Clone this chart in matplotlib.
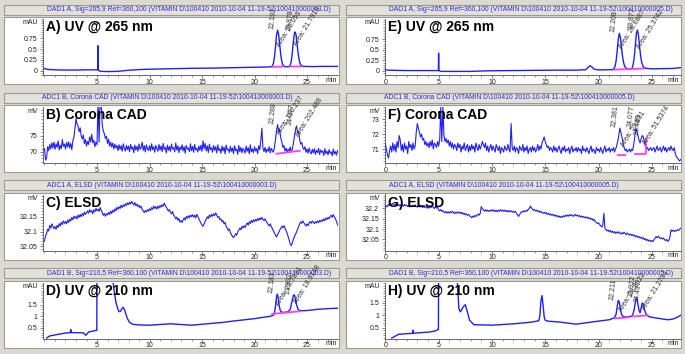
import numpy as np
import matplotlib.pyplot as plt
from matplotlib.patches import Rectangle
from matplotlib.ticker import FixedLocator, MultipleLocator, FuncFormatter

plt.rcParams['font.family'] = ['Liberation Sans', 'DejaVu Sans']

STEP = 0.1  # sampling interval (min) of the exported noisy detector traces

# ---------------- A) UV @ 265 nm, run 003
tA = [0.0, 0.3, 1.0, 2.0, 3.0, 4.0, 5.0, 5.08, 5.1, 5.12, 5.3, 6.0, 7.0, 8.0, 9.0, 10.0, 12.0, 14.0, 16.0, 18.0, 20.0, 21.0,
      21.6, 21.7, 21.8, 21.9, 22.0, 22.1, 22.2, 22.3, 22.4, 22.5, 22.6, 22.7, 22.85, 23.0, 23.2,
      23.3, 23.4, 23.5, 23.6, 23.7, 23.8, 23.85, 23.95, 24.05, 24.15, 24.25, 24.35, 24.5, 24.7, 25.5, 26.5, 27.5, 28.0]
vA = [0.05, 0.03, 0.02, 0.015, 0.015, 0.02, 0.02, 0.02, 0.58, 0.02, -0.015, -0.02, -0.015, 0.01, 0.025, 0.035, 0.045, 0.055, 0.06, 0.07, 0.08, 0.085,
      0.09, 0.11, 0.17, 0.32, 0.56, 0.83, 0.94, 0.84, 0.60, 0.37, 0.21, 0.13, 0.10, 0.09, 0.092,
      0.10, 0.13, 0.22, 0.42, 0.68, 0.87, 0.90, 0.84, 0.63, 0.41, 0.25, 0.16, 0.11, 0.10, 0.095, 0.10, 0.10, 0.10]
A_rt_t = [22.2, 23.85]
A_rt_lbl = ['22.192', '23.878']
A_area_t = [22.45, 24.1]
A_area_lbl = ['Area: 35.056', 'Area: 21.7919']
A_base = [(21.65, 0.09, 22.85, 0.095), (23.3, 0.095, 24.55, 0.10)]

# ---------------- E) UV @ 265 nm, run 005
tE = [0.0, 0.2, 1.0, 2.0, 3.0, 4.0, 4.95, 4.98, 5.0, 5.02, 5.2, 6.0, 8.0, 9.0, 10.0, 12.0, 14.0, 16.0, 18.0, 18.8, 19.0, 19.2, 19.4, 19.6, 20.0, 21.0,
      21.35, 21.45, 21.55, 21.65, 21.75, 21.85, 21.95, 22.05, 22.15, 22.25, 22.35, 22.45, 22.6, 22.8, 23.0,
      23.05, 23.15, 23.25, 23.35, 23.45, 23.55, 23.65, 23.75, 23.85, 23.95, 24.05, 24.2, 24.4, 25.0, 26.0, 27.0, 27.7]
vE = [0.03, 0.02, 0.015, 0.01, 0.01, 0.01, 0.01, 0.01, 0.42, 0.01, -0.01, -0.01, -0.01, 0.0, 0.005, 0.01, 0.015, 0.02, 0.02, 0.03, 0.08, 0.125, 0.09, 0.04, 0.025, 0.03,
      0.035, 0.055, 0.11, 0.24, 0.47, 0.75, 0.89, 0.80, 0.57, 0.35, 0.2, 0.11, 0.065, 0.045, 0.04,
      0.05, 0.07, 0.15, 0.32, 0.6, 0.89, 0.97, 0.84, 0.58, 0.35, 0.2, 0.1, 0.065, 0.05, 0.055, 0.06, 0.08]
E_rt_t = [21.95, 23.62]
E_rt_lbl = ['22.208', '23.877']
E_area_t = [22.2, 23.9]
E_area_lbl = ['Area: 28.6887', 'Area: 25.3742']
E_base = [(21.4, 0.03, 24.35, 0.06)]

# ---------------- B) Corona CAD, run 003 (one row per minute)
vB = [71.0, 67.5, 68.2, 71.6, 70.4, 72.3, 70.9, 72.8, 71.2, 73.0,
      70.8, 72.5, 71.4, 73.4, 70.6, 72.1, 71.0, 73.8, 71.7, 72.4,
      70.9, 72.9, 71.5, 73.1, 71.2, 72.6, 70.7, 73.5, 74.5, 77.2,
      80.2, 78.6, 77.9, 76.2, 77.4, 74.8, 74.0, 75.2, 72.6, 73.8,
      71.8, 73.2, 72.3, 74.6, 73.1, 75.4, 72.8, 73.6, 71.6, 73.0,
      72.2, 86.0, 73.0, 86.0, 84.5, 78.2, 76.4, 75.6, 74.1, 74.8,
      72.6, 73.9, 71.8, 73.0, 71.5, 72.7, 70.9, 72.4, 71.2, 72.0,
      70.4, 72.2, 70.8, 71.9, 70.2, 72.5, 71.1, 70.3, 72.0, 70.7,
      71.8, 70.1, 72.3, 70.9, 71.5, 69.8, 72.1, 70.6, 71.7, 70.2,
      72.4, 70.8, 71.3, 73.0, 70.5, 71.9, 70.0, 72.2, 71.0, 70.4,
      71.9, 70.3, 72.5, 70.7, 71.6, 69.9, 72.0, 71.1, 70.2, 72.3,
      70.6, 71.8, 70.1, 72.6, 70.8, 71.4, 69.7, 72.1, 70.5, 71.7,
      70.2, 72.4, 70.9, 71.3, 70.0, 72.7, 70.6, 71.9, 69.8, 71.5,
      70.7, 72.2, 70.3, 71.6, 69.6, 72.0, 70.9, 71.2, 70.1, 72.5,
      70.4, 71.7, 69.9, 72.3, 70.6, 71.1, 70.0, 71.8, 70.5, 72.1,
      70.2, 73.4, 71.0, 72.6, 70.3, 71.9, 69.8, 72.4, 70.7, 71.3,
      69.9, 72.0, 70.5, 71.6, 69.7, 72.2, 70.4, 71.0, 69.6, 71.8,
      70.3, 71.5, 69.4, 72.1, 70.6, 70.9, 69.8, 71.7, 70.2, 71.2,
      69.5, 71.9, 70.4, 70.8, 69.3, 72.0, 70.1, 71.4, 69.7, 71.1,
      70.5, 69.6, 71.8, 70.2, 71.3, 69.4, 72.2, 70.0, 70.9, 69.8,
      71.6, 70.3, 71.0, 69.5, 71.9, 70.7, 73.5, 77.3, 71.2, 70.1,
      71.4, 69.8, 70.9, 70.2, 71.6, 69.7, 71.1, 70.4, 69.9, 71.5,
      73.8, 76.6, 78.4, 76.2, 76.9, 74.3, 73.1, 71.4, 72.0, 70.3,
      71.2, 69.9, 70.8, 70.3, 71.5, 70.0, 70.9, 72.6, 74.8, 76.9,
      78.0, 75.9, 76.3, 73.8, 72.4, 72.9, 71.3, 70.8, 71.6, 69.9,
      70.9, 69.6, 71.2, 70.1, 69.4, 70.8, 69.7, 71.0, 69.3, 70.5,
      69.8, 71.1, 69.2, 70.6, 69.9, 70.3, 68.9, 71.0, 69.5, 70.2,
      69.1, 70.7, 69.6, 70.0, 68.8, 70.9, 69.4, 70.1, 69.0, 70.4,
      69.6]
B_rt_t = [22.2, 24.0]
B_rt_lbl = ['22.288', '24.077']
B_area_t = [22.5, 24.3]
B_area_lbl = ['Area: 186.237', 'Area: 202.488']
B_base = [(22.0, 69.4, 24.4, 70.4)]

# ---------------- F) Corona CAD, run 005
vF = [71.3, 71.0, 70.6, 70.4, 70.9, 71.2, 70.8, 71.4, 70.9, 71.3,
      70.8, 71.5, 71.1, 71.9, 71.6, 70.9, 71.3, 70.8, 71.4, 71.0,
      71.2, 70.7, 71.5, 71.1, 71.3, 70.9, 71.4, 71.0, 71.2, 72.1,
      72.7, 72.4, 72.1, 71.8, 72.0, 71.6, 71.7, 71.3, 71.5, 71.2,
      71.4, 71.1, 71.5, 71.2, 71.6, 71.0, 71.4, 71.3, 71.1, 71.5,
      71.2, 71.6, 73.8, 71.5, 73.8, 71.9, 71.5, 71.7, 71.4, 71.6,
      71.2, 71.5, 71.1, 71.4, 71.0, 71.3, 71.2, 70.9, 71.4, 71.1,
      71.3, 70.8, 71.2, 71.0, 71.4, 70.9, 71.1, 71.3, 70.8, 71.2,
      70.9, 71.3, 71.0, 71.2, 70.8, 71.4, 71.1, 70.9, 71.3, 71.0,
      71.2, 71.5, 71.3, 71.1, 71.4, 70.9, 71.2, 70.8, 71.1, 71.3,
      70.9, 71.2, 71.0, 70.8, 71.3, 71.1, 70.9, 71.2, 70.7, 71.1,
      71.0, 70.8, 71.2, 71.0, 70.9, 71.3, 71.0, 70.8, 72.7, 71.1,
      70.9, 71.2, 70.8, 71.1, 71.0, 70.7, 71.2, 71.0, 70.9, 71.3,
      70.8, 71.1, 70.9, 71.2, 70.7, 71.0, 71.1, 70.8, 71.2, 70.9,
      71.1, 70.8, 71.0, 71.3, 70.9, 71.2, 71.0, 71.4, 71.6, 71.8,
      71.5, 71.3, 71.1, 71.2, 70.9, 71.1, 71.0, 70.8, 71.2, 70.9,
      71.1, 70.8, 71.0, 71.2, 70.9, 70.7, 71.1, 70.9, 71.2, 70.8,
      71.0, 70.9, 71.1, 70.7, 71.0, 71.2, 70.8, 71.0, 70.9, 71.1,
      70.8, 71.1, 70.9, 71.0, 70.7, 71.2, 70.9, 71.0, 70.8, 71.1,
      70.9, 70.7, 71.0, 71.2, 70.8, 71.0, 70.9, 70.7, 71.1, 70.9,
      71.0, 70.8, 71.1, 70.9, 70.7, 71.0, 71.2, 70.8, 71.0, 70.9,
      71.1, 70.8, 71.0, 70.9, 71.1, 70.8, 71.0, 71.2, 71.5, 71.9,
      72.4, 72.1, 71.8, 71.4, 71.1, 70.9, 71.0, 70.8, 70.9, 71.0,
      70.8, 71.0, 70.9, 71.3, 71.8, 72.4, 72.2, 71.9, 71.6, 71.4,
      71.7, 71.9, 71.8, 71.5, 71.2, 71.0, 71.1, 70.9, 71.0, 71.1,
      70.9, 71.0, 71.1, 70.8, 71.0, 71.2, 70.9, 71.0, 71.1, 70.8,
      71.0, 71.2, 70.9, 71.1, 70.8, 71.0, 71.1, 70.9, 71.2, 71.0,
      70.9, 71.1, 70.7, 70.5, 70.4, 70.3, 70.2, 70.3]
F_rt_t = [22.05, 23.55, 24.2]
F_rt_lbl = ['22.381', '24.077', '24.489']
F_area_t = [22.45, 24.45]
F_area_lbl = ['Area: 59.631', 'Area: 51.5374']
F_base = [(21.75, 70.62, 22.6, 70.62), (23.3, 70.68, 24.45, 70.68), (24.45, 70.68, 24.45, 71.75)]

# ---------------- C) ELSD, run 003
vC = [32.068, 32.085, 32.094, 32.108, 32.102, 32.121, 32.112, 32.126, 32.118, 32.110,
      32.117, 32.108, 32.121, 32.114, 32.127, 32.119, 32.131, 32.124, 32.136, 32.128,
      32.134, 32.126, 32.139, 32.131, 32.142, 32.136, 32.148, 32.140, 32.152, 32.145,
      32.151, 32.143, 32.156, 32.148, 32.158, 32.150, 32.161, 32.154, 32.166, 32.158,
      32.163, 32.170, 32.162, 32.174, 32.166, 32.171, 32.160, 32.173, 32.167, 32.178,
      32.170, 32.176, 32.168, 32.181, 32.172, 32.163, 32.155, 32.161, 32.152, 32.160,
      32.156, 32.165, 32.158, 32.169, 32.161, 32.172, 32.166, 32.177, 32.170, 32.182,
      32.175, 32.184, 32.178, 32.189, 32.181, 32.190, 32.185, 32.194, 32.188, 32.197,
      32.191, 32.199, 32.193, 32.202, 32.195, 32.190, 32.198, 32.187, 32.193, 32.184,
      32.189, 32.180, 32.186, 32.175, 32.170, 32.164, 32.171, 32.166, 32.174, 32.169,
      32.177, 32.171, 32.181, 32.175, 32.186, 32.178, 32.184, 32.176, 32.186, 32.179,
      32.188, 32.182, 32.191, 32.185, 32.196, 32.189, 32.182, 32.176, 32.169, 32.174,
      32.165, 32.160, 32.168, 32.156, 32.150, 32.143, 32.149, 32.138, 32.144, 32.132,
      32.137, 32.131, 32.140, 32.146, 32.139, 32.151, 32.145, 32.153, 32.147, 32.156,
      32.150, 32.157, 32.149, 32.155, 32.146, 32.158, 32.151, 32.144, 32.136, 32.128,
      32.122, 32.118, 32.127, 32.135, 32.142, 32.150, 32.144, 32.156, 32.149, 32.158,
      32.152, 32.160, 32.154, 32.163, 32.156, 32.148, 32.151, 32.140, 32.143, 32.133,
      32.137, 32.126, 32.131, 32.118, 32.112, 32.104, 32.109, 32.097, 32.090, 32.084,
      32.080, 32.086, 32.093, 32.088, 32.099, 32.105, 32.112, 32.106, 32.118, 32.112,
      32.120, 32.114, 32.123, 32.129, 32.122, 32.133, 32.127, 32.138, 32.131, 32.140,
      32.134, 32.141, 32.136, 32.144, 32.138, 32.146, 32.140, 32.148, 32.142, 32.137,
      32.143, 32.135, 32.130, 32.124, 32.119, 32.126, 32.117, 32.110, 32.102, 32.095,
      32.088, 32.082, 32.090, 32.097, 32.105, 32.111, 32.118, 32.113, 32.120, 32.112,
      32.104, 32.095, 32.084, 32.072, 32.058, 32.053, 32.062, 32.074, 32.083, 32.090,
      32.099, 32.108, 32.117, 32.126, 32.133, 32.128, 32.136, 32.130, 32.124, 32.119,
      32.126, 32.120, 32.129, 32.134, 32.128, 32.136, 32.131, 32.127, 32.134, 32.129,
      32.136, 32.130, 32.138, 32.133, 32.140, 32.135, 32.143, 32.137, 32.146, 32.141,
      32.148, 32.143, 32.151, 32.155, 32.148, 32.157, 32.150, 32.144, 32.135, 32.124,
      32.118]

# ---------------- G) ELSD, run 005
vG = [32.204, 32.212, 32.208, 32.218, 32.213, 32.222, 32.216, 32.224, 32.218, 32.214,
      32.220, 32.213, 32.219, 32.211, 32.217, 32.209, 32.216, 32.210, 32.218, 32.212,
      32.215, 32.208, 32.214, 32.206, 32.213, 32.207, 32.215, 32.209, 32.216, 32.210,
      32.205, 32.212, 32.206, 32.214, 32.208, 32.203, 32.210, 32.204, 32.209, 32.201,
      32.207, 32.200, 32.209, 32.203, 32.211, 32.205, 32.199, 32.207, 32.201, 32.206,
      32.192, 32.187, 32.194, 32.185, 32.189, 32.181, 32.178, 32.185, 32.177, 32.183,
      32.176, 32.184, 32.178, 32.186, 32.179, 32.174, 32.182, 32.176, 32.183, 32.177,
      32.181, 32.174, 32.180, 32.171, 32.177, 32.168, 32.173, 32.166, 32.171, 32.164,
      32.160, 32.154, 32.162, 32.157, 32.166, 32.160, 32.168, 32.172, 32.166, 32.175,
      32.208, 32.198, 32.192, 32.186, 32.193, 32.185, 32.191, 32.184, 32.190, 32.186,
      32.193, 32.186, 32.192, 32.184, 32.190, 32.183, 32.191, 32.185, 32.193, 32.187,
      32.192, 32.185, 32.191, 32.184, 32.190, 32.182, 32.189, 32.183, 32.188, 32.181,
      32.186, 32.180, 32.184, 32.176, 32.168, 32.161, 32.170, 32.178, 32.185, 32.181,
      32.188, 32.183, 32.190, 32.186, 32.194, 32.198, 32.210, 32.203, 32.196, 32.190,
      32.194, 32.187, 32.191, 32.183, 32.188, 32.180, 32.185, 32.179, 32.176, 32.181,
      32.174, 32.179, 32.171, 32.176, 32.168, 32.173, 32.166, 32.171, 32.163, 32.168,
      32.161, 32.166, 32.158, 32.163, 32.155, 32.161, 32.156, 32.164, 32.159, 32.166,
      32.161, 32.168, 32.162, 32.170, 32.164, 32.168, 32.161, 32.166, 32.170, 32.163,
      32.168, 32.161, 32.165, 32.158, 32.163, 32.156, 32.161, 32.154, 32.159, 32.152,
      32.157, 32.150, 32.154, 32.146, 32.150, 32.141, 32.146, 32.136, 32.131, 32.126,
      32.130, 32.122, 32.117, 32.110, 32.116, 32.176, 32.104, 32.097, 32.091, 32.096,
      32.087, 32.093, 32.084, 32.090, 32.082, 32.088, 32.079, 32.086, 32.080, 32.087,
      32.081, 32.076, 32.083, 32.077, 32.085, 32.079, 32.073, 32.081, 32.075, 32.071,
      32.077, 32.069, 32.074, 32.066, 32.071, 32.062, 32.067, 32.060, 32.064, 32.057,
      32.061, 32.053, 32.058, 32.049, 32.054, 32.045, 32.050, 32.042, 32.047, 32.040,
      32.045, 32.040, 32.048, 32.056, 32.064, 32.058, 32.066, 32.060, 32.054, 32.058,
      32.052, 32.057, 32.049, 32.044, 32.050, 32.041, 32.047, 32.062, 32.096, 32.089,
      32.095, 32.088, 32.094, 32.090, 32.097, 32.093, 32.099, 32.104]

# ---------------- D) UV @ 210 nm, run 003
tD = [0.2, 0.5, 1.2, 2.1, 2.45, 2.5, 2.55, 3.1, 3.7, 3.95, 4.2, 4.65, 4.9, 4.98, 5.0, 5.5, 6.0, 6.5, 6.6, 6.7, 6.8, 6.9, 7.0, 7.1, 7.25, 7.4, 7.5, 7.6, 7.75, 7.9, 8.1, 8.4, 9.0, 10.0, 11.0, 12.0, 13.0, 14.0, 15.0, 16.0, 17.0, 18.0, 19.0, 20.0, 21.0, 21.5, 21.8,
      21.9, 22.0, 22.1, 22.18, 22.25, 22.35, 22.45, 22.6, 22.8, 23.0, 23.2, 23.4, 23.55, 23.7, 23.8, 23.9, 24.0, 24.15, 24.3, 24.6, 25.0, 26.0, 27.0, 28.0]
vD = [0.07, 0.16, 0.22, 0.29, 0.3, 0.43, 0.3, 0.3, 0.29, 0.19, 0.33, 0.37, 0.4, 0.4, 3.0, 3.5, 3.5, 2.6, 2.2, 1.9, 1.6, 1.45, 1.3, 1.2, 1.22, 1.35, 1.38, 1.3, 1.1, 0.9, 0.74, 0.66, 0.63, 0.62, 0.65, 0.68, 0.65, 0.62, 0.66, 0.7, 0.74, 0.8, 0.85, 0.9, 0.97, 1.0, 1.05,
      1.15, 1.45, 1.85, 1.95, 1.8, 1.45, 1.25, 1.18, 1.17, 1.18, 1.2, 1.3, 1.6, 1.9, 1.92, 1.75, 1.5, 1.3, 1.25, 1.24, 1.25, 1.3, 1.33, 1.35]
D_rt_t = [22.15, 23.75]
D_rt_lbl = ['22.183', '23.892']
D_area_t = [22.4, 24.05]
D_area_lbl = ['Area: 23.7891', 'Area: 18.9148']
D_base = [(21.6, 1.1, 24.4, 1.22)]

# ---------------- H) UV @ 210 nm, run 005
tH = [0.6, 1.25, 2.2, 2.55, 2.6, 2.65, 2.8, 4.1, 4.7, 4.9, 4.98, 5.0, 5.5, 6.0, 6.5, 6.75, 6.9, 7.05, 7.3, 7.5, 7.7, 7.9, 8.3, 10.0, 12.2, 13.8, 14.4, 14.5, 14.6, 14.7, 14.8, 14.9, 15.0, 15.3, 16.3, 17.9, 19.4, 21.0, 21.5,
      21.65, 21.75, 21.85, 21.95, 22.05, 22.15, 22.3, 22.6, 23.0, 23.2, 23.35, 23.5, 23.6, 23.7, 23.8, 23.9, 24.0, 24.1, 24.2, 24.3, 24.45, 24.7, 25.0, 26.0, 26.5, 27.0, 27.4, 27.7]
vH = [0.08, 0.23, 0.26, 0.27, 0.39, 0.27, 0.28, 0.32, 0.37, 0.42, 0.42, 3.0, 3.5, 3.5, 3.0, 2.4, 1.27, 1.14, 1.34, 1.43, 1.14, 0.8, 0.62, 0.6, 0.66, 0.73, 0.78, 1.0, 1.6, 1.8, 1.4, 0.95, 0.8, 0.76, 0.73, 0.64, 0.73, 0.82, 0.9,
      1.05, 1.35, 1.6, 1.55, 1.25, 1.05, 0.95, 0.93, 0.95, 1.0, 1.25, 1.65, 1.7, 1.45, 1.2, 1.1, 1.3, 1.5, 1.45, 1.25, 1.05, 0.95, 0.92, 0.85, 0.82, 0.85, 0.92, 1.0]
H_rt_t = [21.88, 23.6, 24.15]
H_rt_lbl = ['22.211', '23.922', '24.497']
H_area_t = [22.2, 24.4]
H_area_lbl = ['Area: 28.8922', 'Area: 21.2794']
H_base = [(21.5, 0.87, 22.9, 0.92), (23.2, 0.95, 24.7, 1.0)]

SRC = 'VITAMIN D\\100410 2010-10-04 11-19-52\\1004100000'
tB = np.arange(len(vB)) * STEP
tC = np.arange(len(vC)) * STEP
tF = np.arange(len(vF)) * STEP
tG = np.arange(len(vG)) * STEP

panels = [
    dict(col=0, row=0, t=tA, v=vA, head='DAD1 A, Sig=265,9 Ref=360,100 (' + SRC + '03.D)', hx=47,
         name='A) UV @ 265 nm', unit='mAU', ylim=(-0.1, 1.2), yt=[0, 0.25, 0.5, 0.75], ym=0.05,
         rt=(A_rt_t, A_rt_lbl), area=(A_area_t, A_area_lbl), base=A_base, lw=1.0),
    dict(col=1, row=0, t=tE, v=vE, head='DAD1 A, Sig=265,9 Ref=360,100 (' + SRC + '05.D)', hx=389,
         name='E) UV @ 265 nm', unit='mAU', ylim=(-0.095, 1.23), yt=[0, 0.25, 0.5, 0.75], ym=0.05,
         rt=(E_rt_t, E_rt_lbl), area=(E_area_t, E_area_lbl), base=E_base, lw=1.0),
    dict(col=0, row=1, t=tB, v=vB, head='ADC1 B, Corona CAD (' + SRC + '03.D)', hx=42,
         name='B) Corona CAD', unit='mV', ylim=(66.6, 83.8), yt=[70, 75], ym=1,
         rt=(B_rt_t, B_rt_lbl), area=(B_area_t, B_area_lbl), base=B_base, lw=0.8),
    dict(col=1, row=1, t=tF, v=vF, head='ADC1 B, Corona CAD (' + SRC + '05.D)', hx=384,
         name='F) Corona CAD', unit='mV', ylim=(70.07, 73.8), yt=[71, 72, 73], ym=0.2,
         rt=(F_rt_t, F_rt_lbl), area=(F_area_t, F_area_lbl), base=F_base, lw=0.8),
    dict(col=0, row=2, t=tC, v=vC, head='ADC1 A, ELSD (' + SRC + '03.D)', hx=47,
         name='C) ELSD', unit='mV', ylim=(32.0365, 32.225), yt=[32.05, 32.1, 32.15], ym=0.01,
         rt=None, area=None, base=[], lw=0.8),
    dict(col=1, row=2, t=tG, v=vG, head='ADC1 A, ELSD (' + SRC + '05.D)', hx=389,
         name='G) ELSD', unit='mV', ylim=(31.997, 32.266), yt=[32.05, 32.1, 32.15, 32.2], ym=0.01,
         rt=None, area=None, base=[], lw=0.8),
    dict(col=0, row=3, t=tD, v=vD, head='DAD1 B, Sig=210,5 Ref=360,100 (' + SRC + '03.D)', hx=47,
         name='D) UV @ 210 nm', unit='mAU', ylim=(0.05, 2.45), yt=[0.5, 1, 1.5], ym=0.1,
         rt=(D_rt_t, D_rt_lbl), area=(D_area_t, D_area_lbl), base=D_base, lw=1.0),
    dict(col=1, row=3, t=tH, v=vH, head='DAD1 B, Sig=210,5 Ref=360,100 (' + SRC + '05.D)', hx=389,
         name='H) UV @ 210 nm', unit='mAU', ylim=(0.06, 2.33), yt=[0.5, 1, 1.5], ym=0.1,
         rt=(H_rt_t, H_rt_lbl), area=(H_area_t, H_area_lbl), base=H_base, lw=1.0),
]

W, H = 685, 354
BG = '#dcd9d1'
BLUE = '#2020f4'
PINK = '#ff3cff'
AXC = '#505050'
ROWS = [0, 88, 175.5, 263.5]
COLS = [dict(box=(4.3, 338.6), ax=(43.5, 338.0), xlim=(-0.095, 27.95), xt=[5, 10, 15, 20, 25], unit_r=38.5, name_x=46, min_x=331.7),
        dict(box=(346.5, 681.5), ax=(385.0, 680.5), xlim=(-0.03, 27.69), xt=[0, 5, 10, 15, 20, 25], unit_r=380.0, name_x=388, min_x=673.7)]

fig = plt.figure(figsize=(W / 100, H / 100), dpi=100, facecolor=BG)


def fy(y):
    return 1 - y / H


def box(x0, y0, x1, y1, fc, ec):
    fig.add_artist(Rectangle((x0 / W, fy(y1)), (x1 - x0) / W, (y1 - y0) / H, transform=fig.transFigure,
                             facecolor=fc, edgecolor=ec, lw=0.8, zorder=-5))


for p in panels:
    c = COLS[p['col']]
    r0 = ROWS[p['row']]
    box(c['box'][0], r0 + 4.5, c['box'][1], r0 + 14.5, '#e4e1da', '#9c9a94')
    box(c['box'][0], r0 + 17, c['box'][1], r0 + 84, 'white', '#9c9a94')
    fig.text(p['hx'] / W, fy(r0 + 9.7), p['head'], fontsize=4.85, color='#2a2ad8', va='center', ha='left')

    ax = fig.add_axes([c['ax'][0] / W, fy(r0 + 75), (c['ax'][1] - c['ax'][0]) / W, 56 / H])
    ax.set_facecolor('none')
    ax.plot(p['t'], p['v'], color=BLUE, lw=p['lw'], zorder=3)
    for (t0, v0, t1, v1) in p['base']:
        ax.plot([t0, t1], [v0, v1], color=PINK, lw=1.3, zorder=4, solid_capstyle='butt')

    tt = np.asarray(p['t'], dtype=float)
    vv = np.asarray(p['v'], dtype=float)
    if p['rt']:
        for t_pk, lbl in zip(*p['rt']):
            m = np.abs(tt - t_pk) <= 0.15
            top = vv[m].max() if m.any() else np.interp(t_pk, tt, vv)
            ax.annotate(lbl, (t_pk, top), xytext=(-1.8, 0.5), textcoords='offset points', rotation=84,
                        ha='left', va='bottom', rotation_mode='anchor', fontsize=5, color='#303030',
                        annotation_clip=False, zorder=6)
        for t_ar, lbl in zip(*p['area']):
            ax.annotate(lbl, (t_ar, np.interp(t_ar, tt, vv)), xytext=(1, 1), textcoords='offset points',
                        rotation=58, ha='left', va='bottom', rotation_mode='anchor', fontsize=5,
                        color='#303030', annotation_clip=False, zorder=6)

    ax.set_xlim(*c['xlim'])
    ax.set_ylim(*p['ylim'])
    for s in ('top', 'right'):
        ax.spines[s].set_visible(False)
    for s in ('left', 'bottom'):
        ax.spines[s].set_color(AXC)
        ax.spines[s].set_linewidth(0.6)
    ax.xaxis.set_major_locator(FixedLocator(c['xt']))
    ax.xaxis.set_minor_locator(MultipleLocator(1))
    ax.yaxis.set_major_locator(FixedLocator(p['yt']))
    ax.yaxis.set_minor_locator(MultipleLocator(p['ym']))
    ax.xaxis.set_major_formatter(FuncFormatter(lambda x, pos: '%g' % x))
    ax.yaxis.set_major_formatter(FuncFormatter(lambda y, pos: '%g' % round(y, 3)))
    ax.tick_params(which='major', length=2, width=0.5, color=AXC, labelsize=5, labelcolor='#202020')
    ax.tick_params(which='minor', length=1.1, width=0.4, color=AXC)
    ax.tick_params(axis='x', pad=0.8)
    ax.tick_params(axis='y', pad=2.2)

    fig.text(c['min_x'] / W, fy(r0 + 80.3), 'min', fontsize=5, color='#202020', ha='center', va='center')
    fig.text(c['unit_r'] / W, fy(r0 + 23), p['unit'], fontsize=5, color='#202020', ha='right', va='center')
    fig.text(c['name_x'] / W, fy(r0 + 20.5), p['name'], fontsize=10, fontweight='bold', color='black',
             ha='left', va='top', zorder=10)

fig.savefig('out.png', dpi=100, facecolor=BG)
